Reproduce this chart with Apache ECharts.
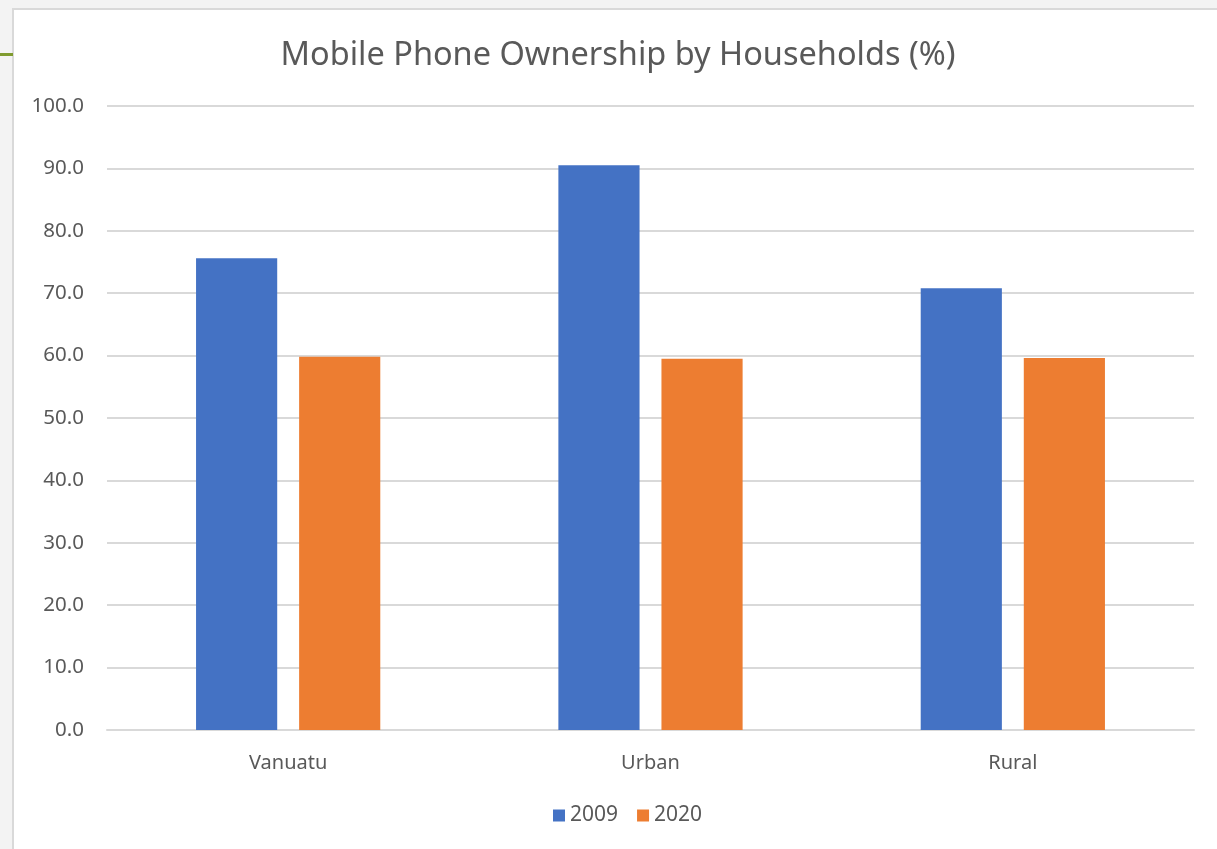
<!DOCTYPE html>
<html>
<head>
<meta charset="utf-8">
<script src="https://cdn.jsdelivr.net/npm/echarts@6/dist/echarts.min.js"></script>
<style>
  html, body { margin: 0; padding: 0; width: 1217px; height: 849px; overflow: hidden; background: #f3f3f3; }
  #panel { position: absolute; left: 12px; top: 8px; width: 1220px; height: 860px; background: #fff; border: 2px solid #d9d9d9; }
  #mark { position: absolute; left: 0; top: 53px; width: 13px; height: 3px; background: #7f9b2f; }
  #chart { position: absolute; left: 0; top: 0; width: 1217px; height: 849px; }
</style>
</head>
<body>
<div id="panel"></div>
<div id="mark"></div>
<div id="chart"></div>
<script>
// 数据
var categories = ['Vanuatu', 'Urban', 'Rural']
var seriesNames = ['2009', '2020']
var values2009 = [75.6, 90.5, 70.8]
var values2020 = [59.8, 59.5, 59.6]
var colors = ['#4472C4', '#ED7D31']

var textColor = '#595959'
var fontName = 'Noto Sans'

var myChart = echarts.init(document.getElementById('chart'))
var option = {
  animation: false,
  title: {
    text: 'Mobile Phone Ownership by Households (%)',
    left: 613,
    textAlign: 'center',
    top: 34,
    textStyle: { color: textColor, fontFamily: fontName, fontSize: 32.5, fontWeight: 'normal' }
  },
  legend: {
    data: seriesNames,
    bottom: 18,
    left: 548,
    icon: 'rect',
    itemWidth: 12,
    itemHeight: 12,
    itemGap: 19,
    textStyle: { color: textColor, fontFamily: fontName, fontSize: 21 }
  },
  grid: { left: 107, right: 23, top: 106, bottom: 119 },
  xAxis: {
    type: 'category',
    data: categories,
    axisLine: { lineStyle: { color: '#d9d9d9', width: 2 } },
    axisTick: { show: false },
    axisLabel: { color: textColor, fontFamily: fontName, fontSize: 20, margin: 23 }
  },
  yAxis: {
    type: 'value',
    min: 0,
    max: 100,
    interval: 10,
    axisLabel: {
      color: textColor, fontFamily: fontName, fontSize: 20.5, margin: 23,
      formatter: function (v) { return v.toFixed(1) }
    },
    splitLine: { lineStyle: { color: '#d9d9d9', width: 2 } }
  },
  series: [
    { name: seriesNames[0], type: 'bar', data: values2009, barWidth: '22.4%', barGap: '27%', itemStyle: { color: colors[0] } },
    { name: seriesNames[1], type: 'bar', data: values2020, barWidth: '22.4%', barGap: '27%', itemStyle: { color: colors[1] } }
  ]
}
myChart.setOption(option)
</script>
</body>
</html>
